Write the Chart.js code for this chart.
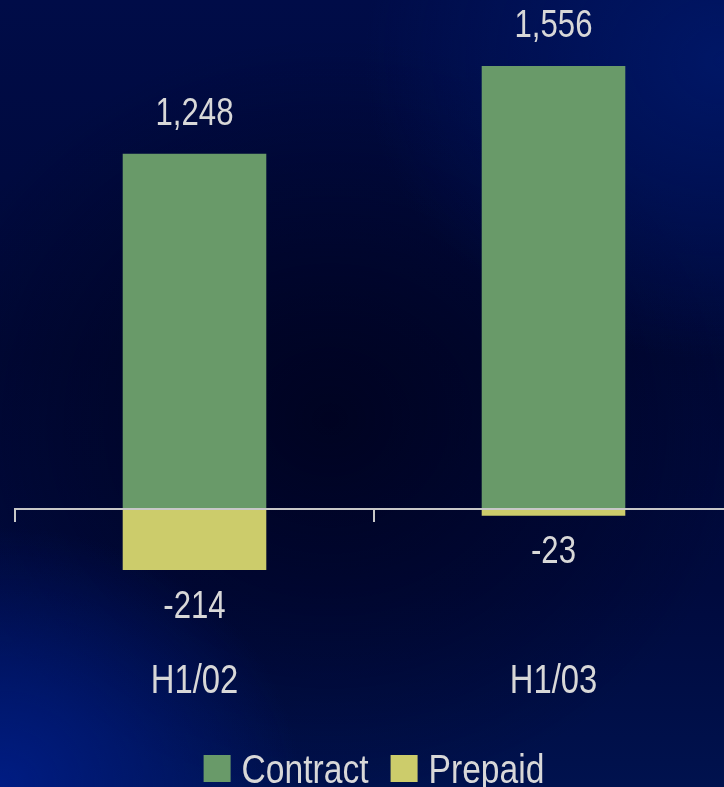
<!DOCTYPE html>
<html>
<head>
<meta charset="utf-8">
<script src="https://cdn.jsdelivr.net/npm/chart.js@4.4.1/dist/chart.umd.min.js"></script>
<style>
  html, body { margin: 0; padding: 0; overflow: hidden; }
  body {
    width: 724px; height: 787px;
    background:
      radial-gradient(ellipse 300px 260px at 0px 787px, rgba(0,30,140,0.85), rgba(0,30,140,0) 100%),
      radial-gradient(ellipse 360px 300px at 724px 60px, rgba(0,25,110,0.8), rgba(0,25,110,0) 100%),
      radial-gradient(ellipse 420px 380px at 330px 420px, rgba(0,2,30,0.85), rgba(0,2,30,0) 100%),
      linear-gradient(180deg, #000c48 0%, #000836 45%, #000a3e 75%, #00124e 100%);
  }
  #wrap { position: absolute; left: 0; top: 0; width: 752px; height: 787px; }
</style>
</head>
<body>
<div id="wrap"><canvas id="myChart"></canvas></div>
<script>
// data
const categories = ['H1/02', 'H1/03'];
const contract = [1248, 1556];
const prepaid = [-214, -23];
const seriesNames = ['Contract', 'Prepaid'];
const seriesColors = ['#699a69', '#cccc6b'];

const FONT = '"Liberation Sans", Arial, sans-serif';
const TEXT = '#d8d8d8';
const NARROW = 0.82;

// condensed text, like the original narrow face
function narrowText(ctx, text, x, y, sx) {
  ctx.save();
  ctx.translate(x, y);
  ctx.scale(sx, 1);
  ctx.fillText(text, 0, 0);
  ctx.restore();
}

// axis line, ticks, labels and legend
const decor = {
  id: 'decor',
  afterDatasetsDraw(chart) {
    const ctx = chart.ctx;
    const x = chart.scales.x;
    const y = chart.scales.y;
    const area = chart.chartArea;
    const y0 = Math.round(y.getPixelForValue(0));

    ctx.save();
    ctx.strokeStyle = '#c8c8c8';
    ctx.lineWidth = 2;
    ctx.beginPath();
    ctx.moveTo(area.left, y0);
    ctx.lineTo(chart.width, y0);
    const step = (area.right - area.left) / categories.length;
    for (let i = 0; i < categories.length; i++) {
      const tx = area.left + i * step;
      ctx.moveTo(tx, y0 - 1);
      ctx.lineTo(tx, y0 + 13);
    }
    ctx.stroke();

    // value labels
    ctx.fillStyle = TEXT;
    ctx.textAlign = 'center';
    ctx.textBaseline = 'middle';
    ctx.font = '38px ' + FONT;
    chart.data.datasets.forEach((ds, di) => {
      const meta = chart.getDatasetMeta(di);
      meta.data.forEach((bar, i) => {
        const v = ds.data[i];
        const ty = v >= 0 ? bar.y - 39 : bar.y + 37;
        narrowText(ctx, v.toLocaleString('en-US'), bar.x, ty, NARROW);
      });
    });

    // category labels
    ctx.font = '40px ' + FONT;
    categories.forEach((c, i) => {
      narrowText(ctx, c, x.getPixelForValue(i), 682, NARROW);
    });

    // legend
    const box = 27, gap = 11, spacing = 22, lsx = 0.84;
    ctx.font = '40px ' + FONT;
    const widths = seriesNames.map(n => ctx.measureText(n).width * lsx);
    let total = 0;
    widths.forEach((w, i) => { total += box + gap + w + (i ? spacing : 0); });
    let lx = (area.left + area.right) / 2 - total / 2;
    ctx.textAlign = 'left';
    ctx.textBaseline = 'alphabetic';
    seriesNames.forEach((n, i) => {
      ctx.fillStyle = seriesColors[i];
      ctx.fillRect(lx, 755, box, box);
      ctx.fillStyle = TEXT;
      narrowText(ctx, n, lx + box + gap, 783, lsx);
      lx += box + gap + widths[i] + spacing;
    });
    ctx.restore();
  }
};

const ctx = document.getElementById('myChart');
new Chart(ctx, {
  type: 'bar',
  data: {
    labels: categories,
    datasets: [
      { label: seriesNames[0], data: contract, backgroundColor: seriesColors[0], borderWidth: 0 },
      { label: seriesNames[1], data: prepaid, backgroundColor: seriesColors[1], borderWidth: 0 }
    ]
  },
  options: {
    responsive: true,
    maintainAspectRatio: false,
    animation: false,
    layout: { padding: { left: 15, right: 19, top: 25, bottom: 164 } },
    datasets: { bar: { categoryPercentage: 1, barPercentage: 0.4 } },
    plugins: { legend: { display: false }, tooltip: { enabled: false } },
    scales: {
      x: { stacked: true, display: false },
      y: { stacked: true, display: false, min: -400, max: 1700 }
    }
  },
  plugins: [decor]
});
</script>
</body>
</html>
